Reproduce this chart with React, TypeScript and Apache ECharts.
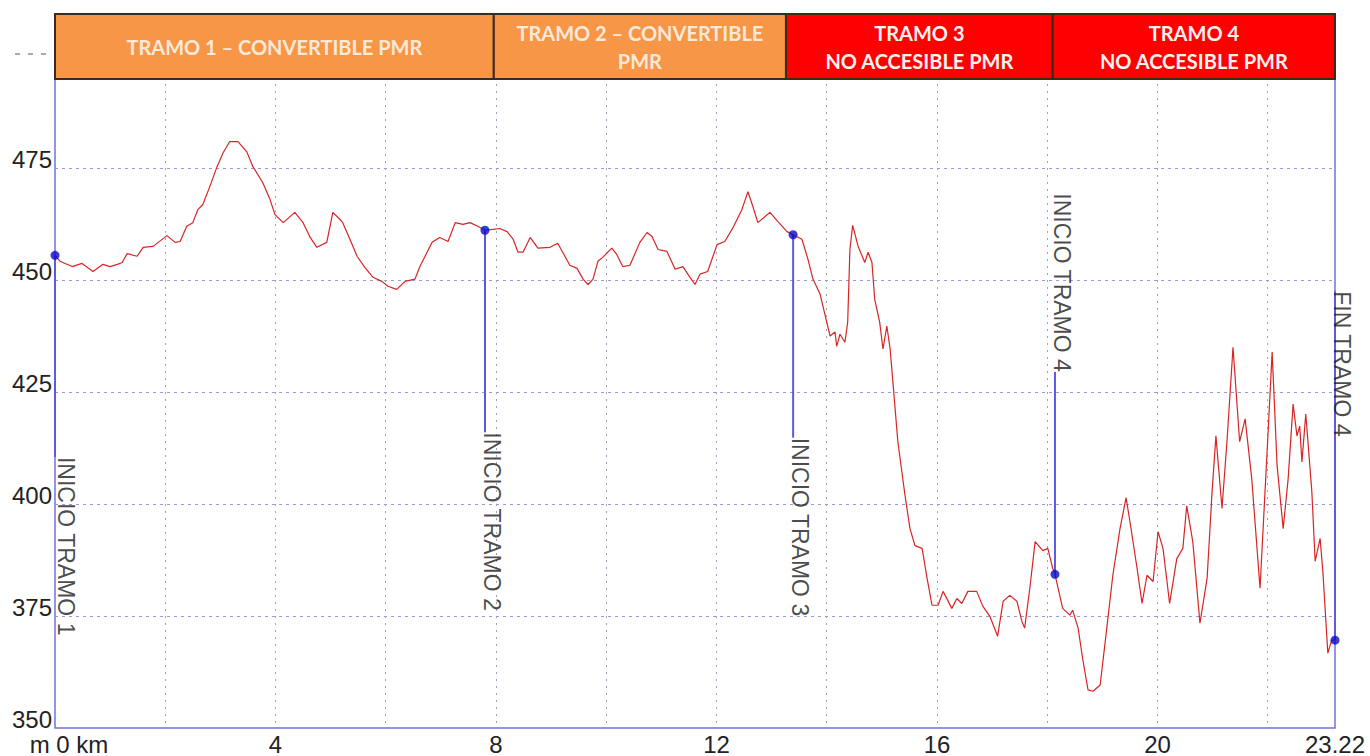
import React, { useEffect, useRef } from "react";
import * as echarts from "echarts";

// Profile: distance (km) and elevation (m)
const distKm = [
  0, 0.09, 0.31, 0.49, 0.69, 0.87, 1.0, 1.13, 1.22, 1.31,
  1.49, 1.6, 1.78, 2.03, 2.18, 2.27, 2.39, 2.5, 2.59, 2.68,
  2.81, 2.94, 3.05, 3.17, 3.32, 3.48, 3.59, 3.77, 3.9, 3.99,
  4.14, 4.35, 4.5, 4.63, 4.75, 4.93, 5.04, 5.17, 5.22, 5.35,
  5.48, 5.62, 5.77, 5.93, 6.04, 6.2, 6.35, 6.53, 6.62, 6.75,
  6.84, 6.98, 7.13, 7.26, 7.4, 7.53, 7.67, 7.8, 7.94, 8.07,
  8.2, 8.31, 8.4, 8.49, 8.62, 8.76, 8.98, 9.12, 9.21, 9.34,
  9.47, 9.58, 9.67, 9.76, 9.85, 9.94, 10.1, 10.19, 10.3, 10.43,
  10.61, 10.74, 10.83, 10.94, 11.1, 11.25, 11.39, 11.52, 11.61, 11.7,
  11.84, 12.01, 12.15, 12.3, 12.46, 12.57, 12.66, 12.75, 12.97, 13.11,
  13.28, 13.39, 13.55, 13.66, 13.75, 13.88, 14.0, 14.06, 14.15, 14.18,
  14.24, 14.33, 14.38, 14.42, 14.47, 14.57, 14.69, 14.75, 14.82, 14.87,
  14.96, 15.02, 15.09, 15.15, 15.2, 15.29, 15.42, 15.51, 15.6, 15.73,
  15.82, 15.91, 16.02, 16.11, 16.27, 16.36, 16.45, 16.56, 16.72, 16.83,
  16.96, 17.1, 17.2, 17.32, 17.45, 17.54, 17.59, 17.69, 17.78, 17.92,
  18.01, 18.1, 18.14, 18.28, 18.41, 18.46, 18.56, 18.65, 18.74, 18.83,
  18.96, 19.08, 19.19, 19.32, 19.43, 19.5, 19.63, 19.72, 19.81, 19.92,
  20.01, 20.1, 20.22, 20.35, 20.46, 20.53, 20.64, 20.77, 20.9, 20.99,
  21.06, 21.17, 21.26, 21.37, 21.49, 21.59, 21.71, 21.86, 22.0, 22.08,
  22.17, 22.28, 22.37, 22.46, 22.53, 22.58, 22.62, 22.69, 22.8, 22.86,
  22.95, 23.0, 23.09, 23.16, 23.22,
];
const elevM = [
  455.5, 454.2, 453.0, 453.7, 451.9, 453.5, 453.0, 453.5, 453.9, 455.9,
  455.3, 457.3, 457.5, 459.9, 458.4, 458.6, 462.0, 462.8, 465.7, 466.8,
  470.9, 475.3, 478.4, 480.9, 480.9, 478.6, 475.3, 471.7, 468.0, 464.6,
  462.8, 465.1, 462.8, 459.5, 457.3, 458.4, 465.1, 463.5, 462.8, 459.1,
  455.3, 452.8, 450.6, 449.7, 448.6, 447.9, 449.7, 450.2, 453.0, 456.2,
  458.4, 459.5, 458.6, 462.8, 462.4, 462.8, 462.0, 461.1, 461.3, 461.5,
  460.8, 459.1, 456.2, 456.2, 459.5, 457.1, 457.3, 458.2, 456.2, 453.3,
  452.6, 450.2, 449.0, 450.2, 454.2, 455.1, 457.1, 455.7, 453.0, 453.3,
  458.4, 460.6, 459.7, 456.8, 456.4, 452.4, 453.0, 450.6, 449.0, 451.3,
  451.9, 457.9, 458.6, 461.7, 465.7, 469.7, 466.4, 462.8, 465.1, 463.1,
  460.8, 460.1, 459.1, 454.6, 450.2, 446.8, 440.6, 437.5, 438.4, 435.2,
  437.9, 436.1, 440.6, 456.8, 462.2, 457.5, 453.9, 456.2, 453.9, 445.7,
  440.6, 434.6, 439.7, 434.6, 427.2, 413.9, 401.9, 394.5, 390.7, 390.1,
  383.4, 377.4, 377.4, 380.5, 376.7, 378.9, 377.8, 380.5, 380.5, 377.2,
  374.9, 370.5, 378.3, 379.6, 378.3, 373.8, 372.3, 381.8, 391.6, 389.6,
  390.1, 385.6, 384.3, 376.7, 375.2, 376.3, 372.3, 364.9, 358.5, 358.2,
  359.6, 372.3, 384.1, 394.5, 401.4, 396.1, 385.6, 377.8, 384.1, 382.7,
  393.8, 390.1, 377.8, 387.8, 390.1, 399.6, 391.6, 373.4, 383.4, 402.7,
  415.2, 399.0, 413.9, 435.0, 413.9, 419.0, 405.6, 381.2, 414.5, 433.9,
  408.5, 394.5, 405.6, 422.3, 415.2, 417.4, 409.4, 420.1, 402.7, 387.2,
  392.3, 384.9, 366.7, 369.6, 369.6,
];

// Section markers
const markerNames = ["INICIO TRAMO 1", "INICIO TRAMO 2", "INICIO TRAMO 3", "INICIO TRAMO 4", "FIN TRAMO 4"];
const markerKm = [0, 7.8, 13.39, 18.14, 23.22];
const markerElev = [455.5, 461.1, 460.1, 384.3, 369.6];
const markerLabelElev = [410.5, 416.0, 414.8, 429.5, 447.5];
const markerLabelAbove = [false, false, false, true, false];

// Header bands
const headerKm = [0, 7.96, 13.26, 18.1, 23.22];
const headerTexts = [
  "TRAMO 1 – CONVERTIBLE PMR",
  "TRAMO 2 – CONVERTIBLE\nPMR",
  "TRAMO 3\nNO ACCESIBLE PMR",
  "TRAMO 4\nNO ACCESIBLE PMR",
];
const headerFill = ["#F79646", "#F79646", "#FF0000", "#FF0000"];
const headerTextColor = ["#FDE9D9", "#FDE9D9", "#FFF2F0", "#FFF2F0"];

// Axes
const yMin = 350;
const yMax = 500;
const yStep = 25;
const xMax = 23.22;
const xLabelKm = [0, 4, 8, 12, 16, 20, 23.22];

const FONT = "'Liberation Sans', Arial, sans-serif";

export default function App() {
  const ref = useRef<HTMLDivElement>(null);

  useEffect(() => {
    if (!ref.current) return;
    const chart = echarts.init(ref.current, null, { renderer: "svg" });

    const profile = distKm.map((d, i) => [d, elevM[i]]);

    const markerLineSeries = markerKm.map((km, i) => ({
      type: "line",
      data: [
        [km, markerElev[i]],
        [km, markerLabelElev[i]],
      ],
      symbol: "none",
      lineStyle: { color: "#5a5ae6", width: 2 },
      z: 3,
      silent: true,
    }));

    const labelData = markerKm.map((km, i) => ({
      value: [km, markerLabelElev[i]],
      label: {
        show: true,
        formatter: markerNames[i],
        align: markerLabelAbove[i] ? "right" : "left",
        lineHeight: i === 0 ? 21 : 14,
      },
    }));

    const option: any = {
      animation: false,
      grid: {
        left: 55,
        right: 35,
        top: 56,
        bottom: 26,
        show: true,
        borderColor: "#7070e0",
        borderWidth: 1.5,
        backgroundColor: "transparent",
      },
      xAxis: {
        type: "value",
        min: 0,
        max: xMax,
        interval: 2,
        axisLine: { show: false },
        axisTick: { show: false },
        axisLabel: {
          fontSize: 24,
          color: "#222",
          fontFamily: FONT,
          margin: 4,
          showMaxLabel: true,
          showMinLabel: true,
          formatter: (v: number) => {
            const hit = xLabelKm.find((k) => Math.abs(k - v) < 1e-6);
            if (hit === undefined) return "";
            if (hit === 0) return "{z|m 0 km}";
            return String(hit);
          },
          rich: {
            z: { fontSize: 24, fontFamily: FONT, color: "#222", padding: [0, 0, 0, 28] },
          },
        },
        splitLine: {
          show: true,
          lineStyle: { color: "#a0a0b8", type: [2, 5], width: 1 },
        },
      },
      yAxis: {
        type: "value",
        min: yMin,
        max: yMax,
        interval: yStep,
        axisLine: { show: false },
        axisTick: { show: false },
        axisLabel: {
          fontSize: 24,
          color: "#222",
          fontFamily: FONT,
          margin: 3,
          lineHeight: 18,
          verticalAlign: "bottom",
          formatter: (v: number) => (v === yMax ? "" : String(v)),
        },
        splitLine: {
          show: true,
          lineStyle: { color: "#9a9ad8", type: [3, 4], width: 1 },
        },
      },
      series: [
        {
          type: "line",
          data: profile,
          showSymbol: false,
          symbol: "none",
          lineStyle: { color: "#d82424", width: 1.2 },
          z: 2,
          silent: true,
        },
        ...markerLineSeries,
        {
          type: "scatter",
          data: markerKm.map((km, i) => [km, markerElev[i]]),
          symbolSize: 9,
          itemStyle: { color: "#0a0ac8" },
          z: 5,
          silent: true,
        },
        {
          type: "scatter",
          data: labelData,
          symbolSize: 1,
          itemStyle: { color: "rgba(0,0,0,0)" },
          z: 6,
          silent: true,
          label: {
            show: true,
            position: "inside",
            rotate: -90,
            verticalAlign: "bottom",
            lineHeight: 14,
            fontSize: 23,
            color: "#1a1a1a",
            fontFamily: FONT,
          },
        },
      ],
    };

    chart.setOption(option);

    const px = (km: number) => chart.convertToPixel({ xAxisIndex: 0 }, km) as number;
    const py = (v: number) => chart.convertToPixel({ yAxisIndex: 0 }, v) as number;
    const headerTop = 14;
    const headerBottom = 79;
    const graphics: any[] = [];
    for (let i = 0; i < headerTexts.length; i++) {
      const x0 = px(headerKm[i]);
      const x1 = px(headerKm[i + 1]);
      graphics.push({
        type: "rect",
        shape: { x: x0, y: headerTop, width: x1 - x0, height: headerBottom - headerTop },
        style: { fill: headerFill[i], stroke: "#3a2a20", lineWidth: 2 },
        z: 100,
      });
      graphics.push({
        type: "text",
        x: (x0 + x1) / 2,
        y: (headerTop + headerBottom) / 2,
        style: {
          text: headerTexts[i],
          fill: headerTextColor[i],
          font: "bold 20px Lato, 'Open Sans', sans-serif",
          align: "center",
          verticalAlign: "middle",
          lineHeight: 28,
        },
        z: 101,
      });
    }
    const y500 = py(yMax) - 2;
    graphics.push({
      type: "line",
      shape: { x1: 15, y1: y500, x2: 50, y2: y500 },
      style: { stroke: "#555", lineWidth: 1, lineDash: [5, 8] },
      z: 100,
    });
    chart.setOption({ graphic: graphics });

    return () => chart.dispose();
  }, []);

  return (
    <div
      ref={ref}
      style={{ position: "absolute", left: 0, top: 0, width: 1370, height: 756, background: "#fff" }}
    />
  );
}
